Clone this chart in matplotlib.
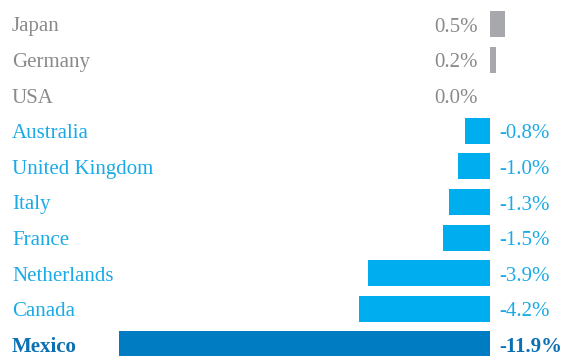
import matplotlib
matplotlib.use("Agg")
import matplotlib.pyplot as plt
import matplotlib.transforms as mtransforms

countries = ["Japan", "Germany", "USA", "Australia", "United Kingdom",
             "Italy", "France", "Netherlands", "Canada", "Mexico"]
changes = [0.5, 0.2, 0.0, -0.8, -1.0, -1.3, -1.5, -3.9, -4.2, -11.9]
labels = ["0.5%", "0.2%", "0.0%", "-0.8%", "-1.0%", "-1.3%", "-1.5%",
          "-3.9%", "-4.2%", "-11.9%"]

GRAY_BAR = "#A7A8AB"
GRAY_TEXT = "#8A8A8A"
BLUE = "#00AEEF"
BLUE_TEXT = "#1AAAE8"
DARK_BLUE = "#007CC2"
DARK_TEXT = "#0A6FB3"

plt.rcParams["font.family"] = ["Liberation Serif", "DejaVu Serif"]

W, H, DPI = 564, 356, 100
fig = plt.figure(figsize=(W / DPI, H / DPI), dpi=DPI)
ax = fig.add_axes([0, 0, 1, 1])
ax.set_axis_off()

# horizontal scale: zero at x=489.5 px, -11.9 at x=119 px
px_per_unit = (489.5 - 119) / 11.9
ax.set_xlim(-489.5 / px_per_unit, (W - 489.5) / px_per_unit)
row_px = 35.6
first_px = 24
ax.set_ylim((H - first_px) / row_px, -first_px / row_px)

fs = 15
base_off = 7.5 / row_px
trans_lbl = mtransforms.blended_transform_factory(ax.transAxes, ax.transData)
for i, (c, v, lab) in enumerate(zip(countries, changes, labels)):
    if v >= 0:
        bar_c, txt_c, weight = GRAY_BAR, GRAY_TEXT, "normal"
    elif c == "Mexico":
        bar_c, txt_c, weight = DARK_BLUE, DARK_TEXT, "bold"
    else:
        bar_c, txt_c, weight = BLUE, BLUE_TEXT, "normal"
    if v != 0:
        ax.barh(i, v, height=26 / row_px, color=bar_c, linewidth=0)
    yb = i + base_off
    ax.text(12 / W, yb, c, transform=trans_lbl, ha="left", va="baseline",
            fontsize=fs, color=txt_c, fontweight=weight)
    if v >= 0:
        off = mtransforms.offset_copy(ax.transData, fig=fig, x=-12, y=0, units="dots")
        ax.text(0, yb, lab, transform=off, ha="right", va="baseline",
                fontsize=fs, color=txt_c, fontweight=weight)
    else:
        off = mtransforms.offset_copy(ax.transData, fig=fig, x=10, y=0, units="dots")
        ax.text(0, yb, lab, transform=off, ha="left", va="baseline",
                fontsize=fs, color=txt_c, fontweight=weight)

fig.savefig("out.png", dpi=DPI, facecolor="white")
